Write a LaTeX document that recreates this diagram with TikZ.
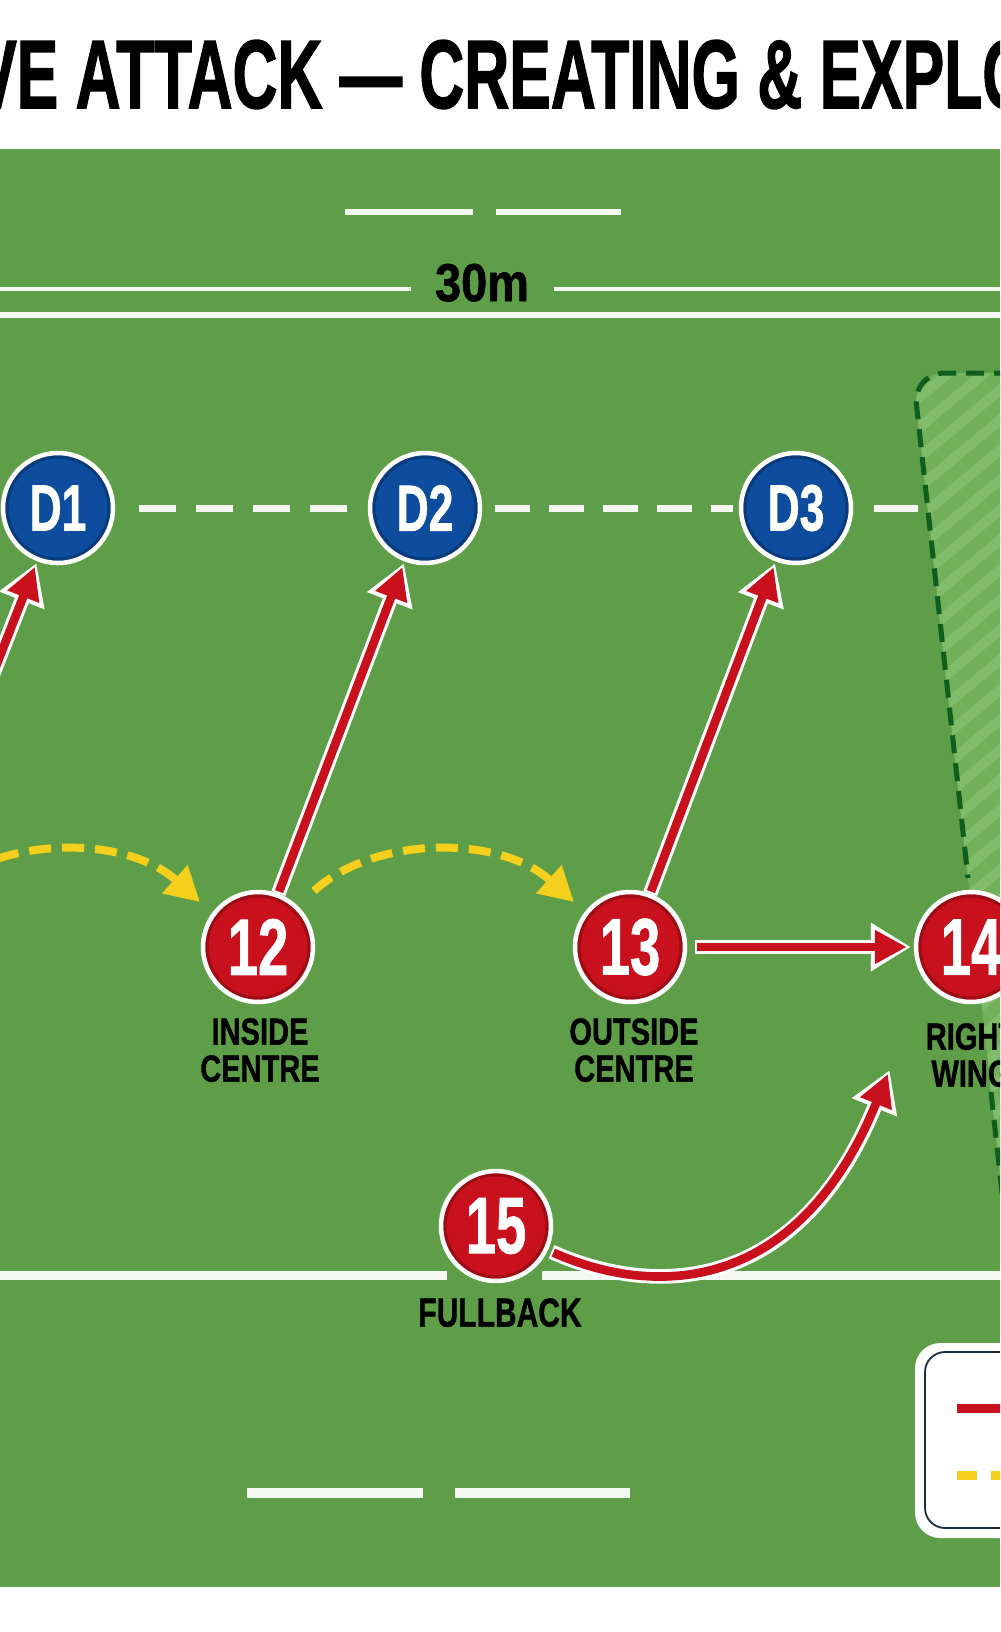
\documentclass[tikz,border=0pt]{standalone}
\usepackage{fontspec}
\setmainfont{Liberation Sans}
\newfontfamily\heavy{Liberation Sans}[BoldFeatures={FakeBold=1.6}]
\newfontfamily\heavyb{Liberation Sans}[BoldFeatures={FakeBold=1.2}]
\usepackage{graphicx}
\usetikzlibrary{arrows.meta}
\newdimen\pxu \pxu=0.75pt
\definecolor{cField}{HTML}{5F9E48}
\definecolor{cLine}{HTML}{F5F7F3}
\definecolor{cNavy}{HTML}{0E4C9E}
\definecolor{cNavyRing}{HTML}{0A3A7A}
\definecolor{cRed}{HTML}{C9111E}
\definecolor{cRedRing}{HTML}{9C0C15}
\definecolor{cYel}{HTML}{F4D01C}
\definecolor{cZone}{HTML}{72B05A}
\definecolor{cStripe}{HTML}{80BC69}
\definecolor{cZoneLine}{HTML}{0F5E1E}
\definecolor{cLegend}{HTML}{1C2E3E}
\newcommand\cnd[2]{\scalebox{#1}[1]{#2}}
\newcommand\dtxt[1]{\cnd{0.68}{\fontsize{49pt}{49pt}\selectfont\heavyb\bfseries #1}}
\newcommand\atxt[1]{\cnd{0.68}{\fontsize{60pt}{60pt}\selectfont\heavyb\bfseries #1}}
\begin{document}
\begin{tikzpicture}[x=0.75pt,y=-0.75pt]
\tikzset{
 pline/.style={draw=cLine, line width=#1\pxu},
 defender/.style={circle, fill=cNavy, draw=white, line width=4.5\pxu, minimum size=110\pxu, inner sep=0pt, text=white,
   path picture={\draw[cNavyRing, line width=3\pxu] (path picture bounding box.center) circle (51);}},
 attacker/.style={circle, fill=cRed, draw=white, line width=4.5\pxu, minimum size=110\pxu, inner sep=0pt, text=white,
   path picture={\draw[cRedRing, line width=3\pxu] (path picture bounding box.center) circle (51);}},
 poslabel/.style={anchor=north, align=center, inner sep=0pt, text=black, font=\fontsize{28.3pt}{27.75pt}\selectfont\heavyb\bfseries},
 casing/.style={draw=white, line width=11pt, -{Triangle[length=30pt,width=34.5pt]}},
 redrun/.style={draw=cRed, line width=6.5pt, -{Triangle[length=24pt,width=24pt]}},
 passrun/.style={draw=cYel, line width=6pt, dash pattern=on 16.5pt off 8.25pt, -{Triangle[length=25.5pt,width=27pt]}},
 rowdash/.style={draw=cLine, line width=5.25pt},
 zoneline/.style={draw=cZoneLine, line width=3.75pt, dash pattern=on 13.5pt off 7.5pt},
}
\useasboundingbox (0,0) rectangle (1000,1632);
\clip (0,0) rectangle (1000,1632);
\fill[white] (0,0) rectangle (1000,1632);
\fill[cField] (0,149) rectangle (1000,1587);

% title
\node[anchor=base west, inner sep=0pt] (title) at (-25,108)
  {\cnd{0.64}{\fontsize{73pt}{73pt}\selectfont\heavy\bfseries VE ATTACK — CREATING \& EXPLO}};

% field markings
\draw[pline=6] (345,212) -- (473,212);
\draw[pline=6] (496,212) -- (621,212);
\draw[pline=4.5] (0,289) -- (411,289);
\draw[pline=4.5] (554,289) -- (1000,289);
\node[anchor=base, inner sep=0pt] (dist) at (482,301)
  {\cnd{0.88}{\fontsize{40pt}{40pt}\selectfont\heavyb\bfseries 30m}};
\draw[pline=6] (0,315) -- (1000,315);
\draw[pline=9] (0,1275) -- (447,1275);
\draw[pline=9] (542,1275) -- (1000,1275);
\draw[pline=10] (247,1493) -- (423,1493);
\draw[pline=10] (455,1493) -- (630,1493);

% space zone
\begin{scope}
\clip[rounded corners=24pt] (1040,373) -- (913,373) -- (1011,1275) -- (1040,1275) -- cycle;
\fill[cZone] (880,360) rectangle (1040,1290);
\foreach \k in {0,...,36} {
  \draw[cStripe, line width=7.5pt] (880,370+\k*30) -- ++(300,-250);
}
\end{scope}
\draw[zoneline, rounded corners=24pt] (1040,373) -- (913,373) -- (968,878);
\draw[zoneline] (991,1092) -- (1011,1275);

% legend
\fill[white, rounded corners=19pt] (915,1343) rectangle (1060,1538);
\draw[cLegend, line width=1.35pt, rounded corners=15pt] (925,1352) rectangle (1060,1528);
\draw[cRed, line width=6.75pt] (957,1408) -- (1010,1408);
\draw[cYel, line width=6.75pt, dash pattern=on 15pt off 10.5pt] (957,1475) -- (1010,1475);

% players
\node[defender] (D1) at (58,508) {\dtxt{D1}};
\node[defender] (D2) at (425,508) {\dtxt{D2}};
\node[defender] (D3) at (796,508) {\dtxt{D3}};
\node[attacker] (n12) at (258,947) {\atxt{12}};
\node[attacker] (n13) at (630,947) {\atxt{13}};
\node[attacker] (n14) at (971,947) {\atxt{14}};
\node[attacker] (n15) at (496,1226) {\atxt{15}};
\coordinate (n11) at (-114,947);

\node[poslabel] (l12) at (260,1018) {\cnd{.77}{INSIDE}\\\cnd{.77}{CENTRE}};
\node[poslabel] (l13) at (634,1018) {\cnd{.77}{OUTSIDE}\\\cnd{.77}{CENTRE}};
\node[poslabel] (l14) at (971,1023) {\cnd{.77}{RIGHT}\\\cnd{.77}{WING}};
\node[poslabel, font=\fontsize{30.4pt}{30pt}\selectfont\heavyb\bfseries] (l15) at (500,1298) {\cnd{.74}{FULLBACK}};

% defensive line
\draw[rowdash, dash pattern=on 27.75pt off 15pt, shorten <=18pt, shorten >=15pt] (D1) -- (D2);
\draw[rowdash, dash pattern=on 26.25pt off 14.25pt, shorten <=9.75pt, shorten >=4.5pt] (D2) -- (D3);
\coordinate (rowend) at (918,508);
\draw[rowdash, shorten <=15.75pt] (D3) -- (rowend);

% passes
\coordinate (p11) at (-76,906);
\coordinate (y1end) at (200,902);
\coordinate (y2end) at (574,902);
\draw[passrun, shorten <=16.5pt] (p11) .. controls (1,835) and (126,835) .. (y1end);
\draw[passrun, shorten <=16.5pt] (n12.46) .. controls (375,835) and (500,835) .. (y2end);

% runs
\draw[casing, shorten >=1.5pt] (n11) -- (D1);
\draw[redrun, shorten >=4.5pt] (n11) -- (D1);
\draw[casing, shorten >=1.5pt] (n12) -- (D2);
\draw[redrun, shorten <=1.5pt, shorten >=4.5pt] (n12) -- (D2);
\draw[casing, shorten >=1.5pt] (n13) -- (D3);
\draw[redrun, shorten <=1.5pt, shorten >=4.5pt] (n13) -- (D3);
\draw[casing, shorten <=6pt, shorten >=2.25pt] (n13) -- (n14);
\draw[redrun, shorten <=7.5pt, shorten >=5.25pt] (n13) -- (n14);
\coordinate (t15) at (888,1074);
\draw[casing, shorten <=3pt, shorten >=-3pt] (n15.-25) .. controls (660,1300) and (800,1290) .. (t15);
\draw[redrun, shorten <=4.5pt] (n15.-25) .. controls (660,1300) and (800,1290) .. (t15);
\end{tikzpicture}
\end{document}
